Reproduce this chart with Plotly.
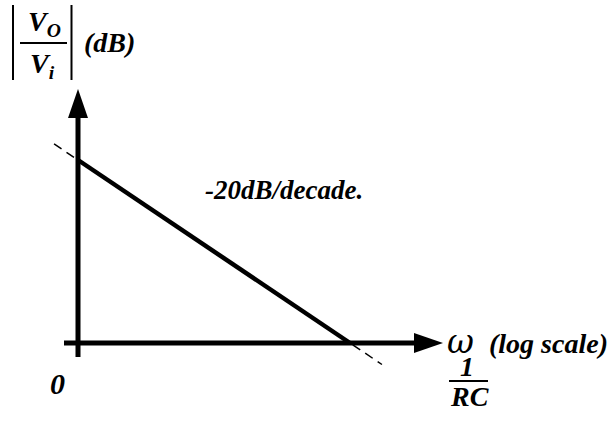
import plotly.graph_objects as go

# ---- data (asymptotic Bode magnitude of an RC low-pass) ----
log_w_rc = [-2, 0]          # log10(ω·RC): vertical-axis position, corner ω = 1/RC
gain_db = [40, 0]           # -20 dB/decade asymptote (dB)
ext_log_w_rc = [-2.176, 0.235]   # dashed extension of the asymptote
ext_gain_db = [43.52, -4.7]

W, H = 616, 421
PX_V_AXIS, PX_CORNER = 78, 350
PY_ZERO, PY_40 = 343, 160
px_per_dec = (PX_CORNER - PX_V_AXIS) / (log_w_rc[1] - log_w_rc[0])
px_per_db = (PY_ZERO - PY_40) / (gain_db[0] - gain_db[1])
x_lo = log_w_rc[0] - PX_V_AXIS / px_per_dec
x_hi = x_lo + W / px_per_dec
y_hi = PY_ZERO / px_per_db
y_lo = -(H - PY_ZERO) / px_per_db


def dx(px):
    return x_lo + px / px_per_dec


def dy(py):
    return y_hi - py / px_per_db


def paper_x(px):
    return px / W


def paper_y(py):
    return 1 - py / H


fig = go.Figure()

# dashed extension of the asymptote (underneath)
fig.add_trace(go.Scatter(x=ext_log_w_rc, y=ext_gain_db, mode="lines",
                         line=dict(color="black", width=1.5, dash="9px,6px"),
                         hoverinfo="skip", showlegend=False))

shapes = []
AXW = 5
vx = log_w_rc[0]
# vertical axis + arrowhead
shapes.append(dict(type="line", xref="x", yref="y", x0=vx, x1=vx,
                   y0=dy(357), y1=dy(116), line=dict(color="black", width=AXW)))
hw = 10 / px_per_dec
shapes.append(dict(type="path", xref="x", yref="y",
                   path=f"M {vx-hw},{dy(118)} L {vx},{dy(89)} L {vx+hw},{dy(118)} Z",
                   fillcolor="black", line=dict(color="black", width=0)))
# horizontal axis + arrowhead
shapes.append(dict(type="line", xref="x", yref="y", x0=dx(64), x1=dx(417),
                   y0=0, y1=0, line=dict(color="black", width=AXW)))
hh = 10 / px_per_db
shapes.append(dict(type="path", xref="x", yref="y",
                   path=f"M {dx(414)},{hh} L {dx(443)},0 L {dx(414)},{-hh} Z",
                   fillcolor="black", line=dict(color="black", width=0)))

# asymptote line
fig.add_trace(go.Scatter(x=log_w_rc, y=gain_db, mode="lines",
                         line=dict(color="black", width=4.5),
                         hoverinfo="skip", showlegend=False))

# |Vo/Vi| bars, fraction bars
for (x0, y0, x1, y1) in [(13, 5, 13, 80), (71.5, 5, 71.5, 80), (20, 43, 67, 43),
                         (449, 381, 488, 381)]:
    shapes.append(dict(type="line", xref="paper", yref="paper",
                       x0=paper_x(x0), x1=paper_x(x1), y0=paper_y(y0), y1=paper_y(y1),
                       line=dict(color="black", width=2)))

SERIF = "Liberation Serif"


def label(text, px, py, size, family=SERIF, bold=True, italic=True, xanchor="center"):
    t = text
    if italic:
        t = f"<i>{t}</i>"
    if bold:
        t = f"<b>{t}</b>"
    fig.add_annotation(x=paper_x(px), y=paper_y(py), xref="paper", yref="paper",
                       text=t, showarrow=False, xanchor=xanchor, yanchor="middle",
                       font=dict(family=family, size=size, color="black"))


label("V<sub>O</sub>", 44, 24, 28)
label("V<sub>i</sub>", 42, 66, 28)
label("(dB)", 109, 42, 28)
label("-20dB/decade.", 284, 190, 27)
label("ω", 460, 341, 33, family="DejaVu Serif", bold=False)
label("(log scale)", 487, 343, 28, xanchor="left")
label("0", 57, 383, 30)
label("1", 467, 366, 28)
label("RC", 469, 396, 28)

fig.update_layout(
    width=W, height=H,
    margin=dict(l=0, r=0, t=0, b=0),
    paper_bgcolor="white", plot_bgcolor="white",
    xaxis=dict(range=[x_lo, x_hi], visible=False),
    yaxis=dict(range=[y_lo, y_hi], visible=False),
    shapes=shapes,
    showlegend=False,
)

fig.write_html("out.html", config={"displayModeBar": False},
               post_script="document.body.style.margin='0';")
